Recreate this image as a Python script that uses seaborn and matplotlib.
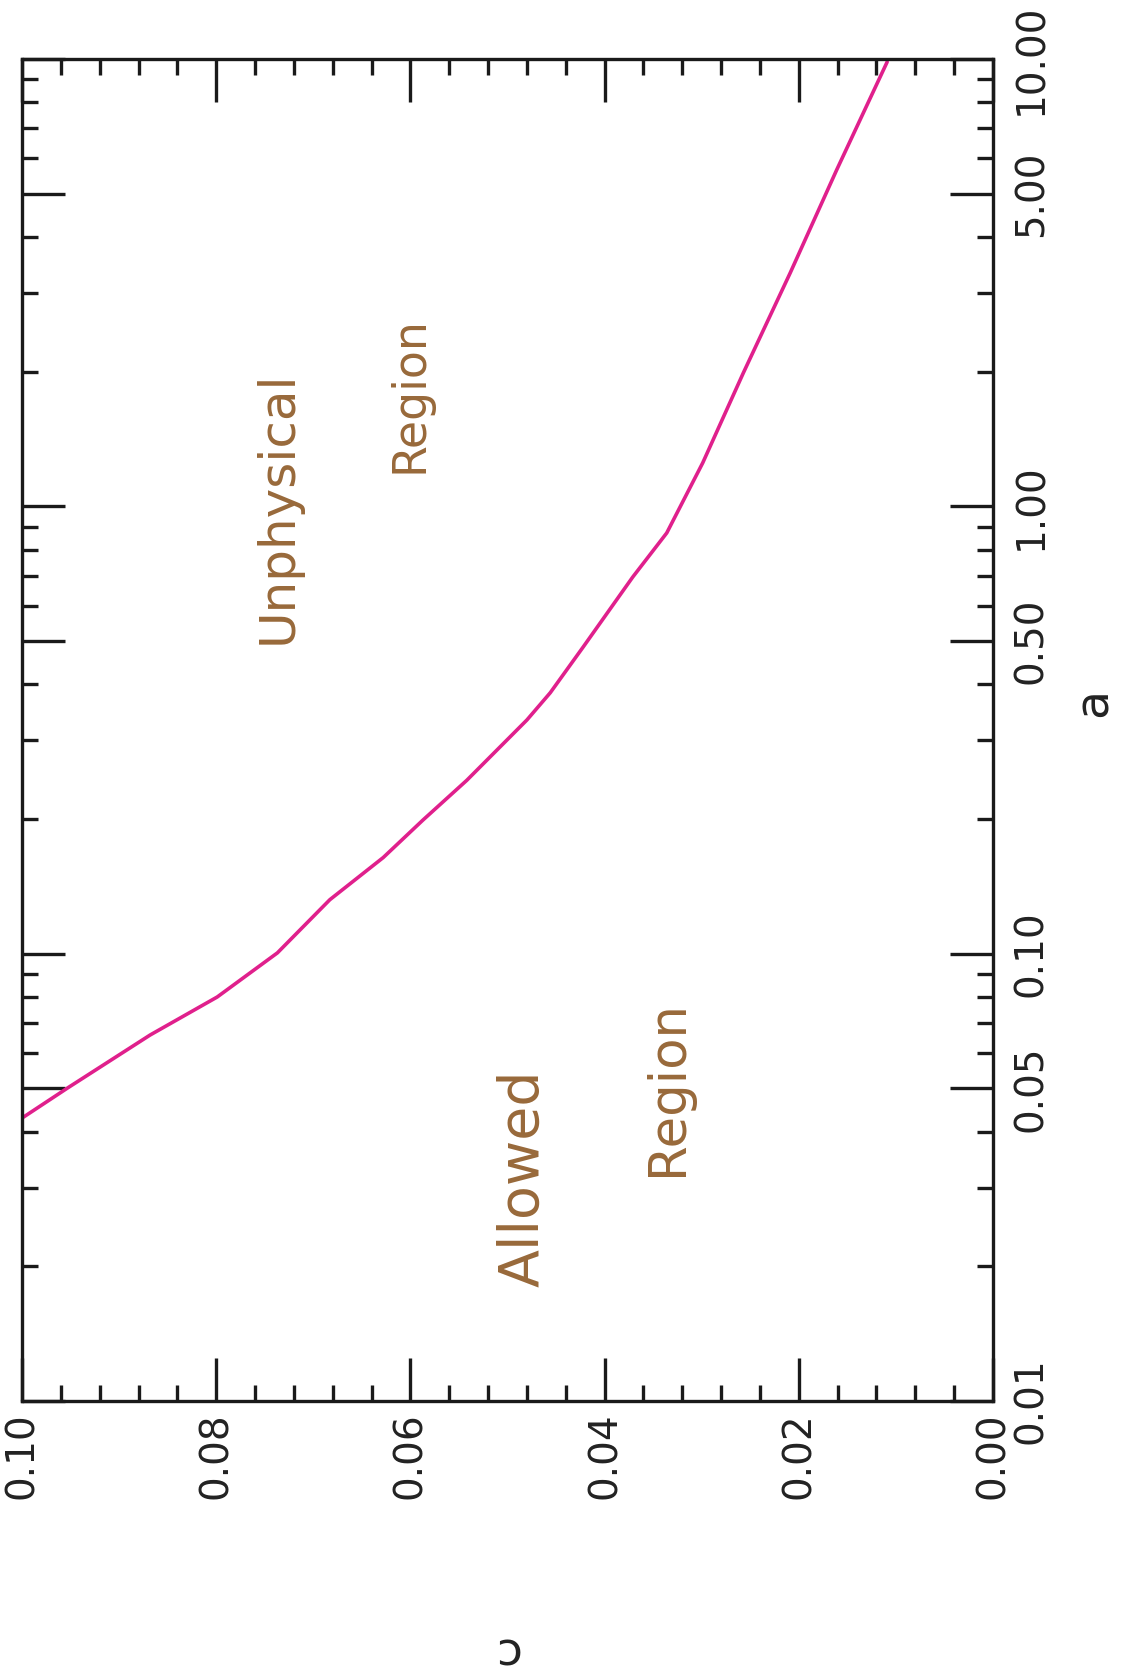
import matplotlib
matplotlib.use("Agg")
import matplotlib.pyplot as plt
import matplotlib.ticker as mticker
import seaborn as sns
import pandas as pd

# curve: c (horizontal, reversed) vs a (vertical, log)
c_vals = [0.1000, 0.0953, 0.0868, 0.0799, 0.0737, 0.0683, 0.0628, 0.0587, 0.0542,
          0.0480, 0.0456, 0.0422, 0.0371, 0.0336, 0.0299, 0.0257, 0.0209, 0.0161, 0.0109]
a_vals = [0.0429, 0.0501, 0.0658, 0.0800, 0.1004, 0.132, 0.164, 0.199, 0.244,
          0.333, 0.383, 0.485, 0.695, 0.872, 1.25, 1.99, 3.32, 5.65, 9.85]

c_ticks = [0.00, 0.02, 0.04, 0.06, 0.08, 0.10]
a_ticks = [0.01, 0.05, 0.10, 0.50, 1.00, 5.00, 10.00]
a_minor = [m * d for d in [0.01, 0.1, 1.0] for m in [2, 3, 4, 6, 7, 8, 9]]

df = pd.DataFrame({"c": c_vals, "a": a_vals})

sns.set_theme(style="ticks")
plt.rcParams["font.family"] = ["DejaVu Sans"]

fig = plt.figure(figsize=(11.22, 16.75), dpi=100)
ax = fig.add_axes([22 / 1122, 1 - 1401 / 1675, (993 - 22) / 1122, (1401 - 59) / 1675])

sns.lineplot(data=df, x="c", y="a", ax=ax, color="#e0208c", linewidth=2.6, sort=False)
for ln in ax.lines:
    ln.set_solid_joinstyle("round")

ax.set_yscale("log")
ax.set_xlim(0.1, 0.0)
ax.set_ylim(0.01, 10)

ax.xaxis.set_major_locator(mticker.FixedLocator(c_ticks))
ax.xaxis.set_minor_locator(mticker.MultipleLocator(0.004))
ax.xaxis.set_major_formatter(mticker.FormatStrFormatter("%.2f"))
ax.yaxis.set_major_locator(mticker.FixedLocator(a_ticks))
ax.yaxis.set_minor_locator(mticker.FixedLocator(a_minor))
ax.yaxis.set_major_formatter(mticker.FormatStrFormatter("%.2f"))
ax.yaxis.set_minor_formatter(mticker.NullFormatter())

ax.tick_params(axis="both", which="both", direction="in", top=True, bottom=True,
               left=True, right=True, color="#1a1a1a", width=2.4)
ax.tick_params(axis="both", which="major", length=31)
ax.tick_params(axis="both", which="minor", length=11.5)
ax.tick_params(axis="x", labelsize=28, labelrotation=90, pad=8, labelcolor="#222222")
ax.tick_params(axis="y", labelsize=28, labelrotation=90, pad=14, labelleft=False,
               labelright=True, labelcolor="#222222")
for lbl in ax.get_yticklabels():
    lbl.set_va("center")

for sp in ax.spines.values():
    sp.set_linewidth(2.4)
    sp.set_color("#1a1a1a")

ax.set_xlabel("")
ax.set_ylabel("")

fig.text(1094 / 1122, 1 - 702 / 1675, "a", rotation=90, ha="center", va="center",
         fontsize=34, color="#222222")
fig.text(505 / 1122, 1 - 1650 / 1675, "c", rotation=180, ha="center", va="center",
         fontsize=34, color="#222222")

# handwritten notes
brown = "#98693a"
fig.text(278 / 1122, 1 - 507 / 1675, "Unphysical", rotation=90, ha="center", va="center",
         fontsize=36, color=brown)
fig.text(410 / 1122, 1 - 395 / 1675, "Region", rotation=90, ha="center", va="center",
         fontsize=33, color=brown)
fig.text(523 / 1122, 1 - 1178 / 1675, "Allowed", rotation=90, ha="center", va="center",
         fontsize=40, color=brown)
fig.text(668 / 1122, 1 - 1088 / 1675, "Region", rotation=90, ha="center", va="center",
         fontsize=37, color=brown)

fig.savefig("out.png", dpi=100, facecolor="white")
